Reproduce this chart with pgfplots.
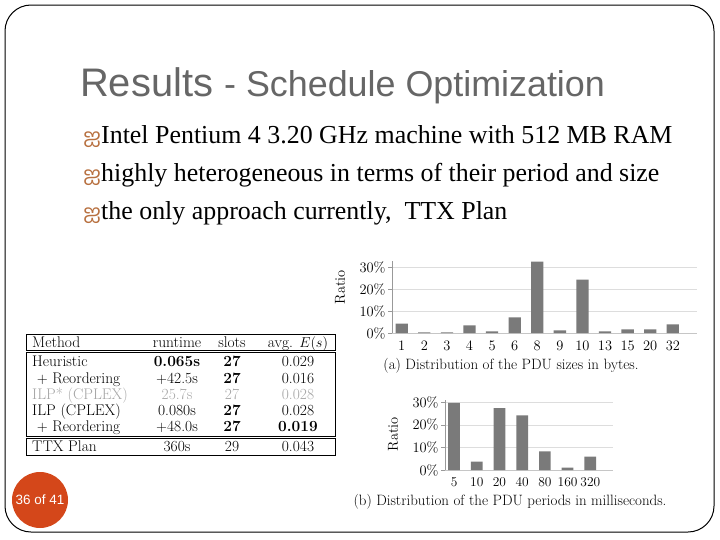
\documentclass[border=0pt]{standalone}
\usepackage{pgfplots}
\pgfplotsset{compat=1.18}
\usepackage{fontspec}
\newfontfamily\arialfont{Liberation Sans}
\newfontfamily\timesfont{Liberation Serif}
\newfontfamily\tamilfont[Script=Tamil]{Hind Madurai}
\definecolor{titlegray}{HTML}{666666}
\definecolor{bulletcol}{HTML}{B8703F}
\definecolor{pagered}{HTML}{D4471A}
\definecolor{bargray}{HTML}{7A7A7A}
\definecolor{gridgray}{HTML}{DDDDDD}

\pgfplotsset{
  ratiochart/.style={
    scale only axis, anchor=south west,
    ybar, bar shift=0pt,
    ymin=0,
    axis x line*=bottom, axis y line*=left,
    x axis line style={draw=gray!45},
    y axis line style={draw=gray!80},
    ytick={0,10,20,30}, yticklabels={0\%,10\%,20\%,30\%},
    ymajorgrids, grid style={gridgray},
    ytick style={draw=gray!80}, major tick length=4bp, tick align=outside,
    xtick=data, xtick style={draw=none},
    ticklabel style={font=\fontsize{14.5}{15}\selectfont},
    yticklabel style={xshift=1bp},
  }
}

\begin{document}
\begin{tikzpicture}
\path[use as bounding box, fill=white] (0,0) rectangle (720bp,-540bp);
\draw[rounded corners=26bp, line width=1bp] (5bp,-5bp) rectangle (714bp,-532bp);

% title and bullets
\node[anchor=base west, text=titlegray, inner sep=0pt] at (80bp,-96bp)
  {\arialfont\fontsize{40}{40}\selectfont Results \fontsize{36}{36}\selectfont - Schedule Optimization};
\foreach \yy/\txt in {143/{Intel Pentium 4 3.20 GHz machine with 512 MB RAM},
                      181/{highly heterogeneous in terms of their period and size},
                      219/{the only approach currently,\ \ TTX Plan}}{
  \node[anchor=base west, inner sep=0pt, text=bulletcol] at (83bp,-\yy bp) {\tamilfont\fontsize{21}{21}\selectfont ஐ};
  \node[anchor=base west, inner sep=0pt] at (101bp,-\yy bp) {\timesfont\fontsize{26}{26}\selectfont \txt};
}

% (a) PDU sizes
\begin{axis}[ratiochart,
  at={(392bp,-333bp)}, width=305bp, height=72bp,
  xmin=-0.43, xmax=13.07, ymax=33, bar width=12.3bp,
  xticklabels={1,2,3,4,5,6,8,9,10,13,15,20,32},
]
\addplot[fill=bargray, draw=none] coordinates {
  (0,4.3) (1,0.3) (2,0.3) (3,3.5) (4,0.8) (5,7.2) (6,32.7)
  (7,1.2) (8,24.5) (9,0.8) (10,1.7) (11,1.7) (12,4.0)};
\end{axis}
\node[rotate=90, font=\fontsize{14.5}{15}\selectfont] at (340bp,-287bp) {Ratio};
\node[font=\fontsize{15}{16}\selectfont] at (511bp,-366bp) {(a) Distribution of the PDU sizes in bytes.};

% (b) PDU periods
\begin{axis}[ratiochart,
  at={(445bp,-470bp)}, width=168bp, height=70bp,
  xmin=-0.4, xmax=7.0, ymax=31, bar width=11.7bp,
  xticklabels={5,10,20,40,80,160,320},
  xticklabel style={font=\fontsize{13.5}{14}\selectfont},
]
\addplot[fill=bargray, draw=none] coordinates {
  (0,29.7) (1,3.7) (2,27.4) (3,24.2) (4,8.3) (5,1.0) (6,5.9)};
\end{axis}
\node[rotate=90, font=\fontsize{14.5}{15}\selectfont] at (393bp,-434bp) {Ratio};
\node[font=\fontsize{15}{16}\selectfont] at (510bp,-502bp) {(b) Distribution of the PDU periods in milliseconds.};

% results table
\draw[line width=0.8bp] (26bp,-334bp) rectangle (335bp,-350bp);
\draw[line width=0.8bp] (26bp,-352bp) rectangle (335bp,-436bp);
\draw[line width=0.8bp] (26bp,-438bp) rectangle (335bp,-455bp);
\begin{scope}[every node/.style={inner sep=0pt, font=\fontsize{15.5}{16}\selectfont}]
\node[anchor=base west] at (32bp,-347bp) {Method};
\node[anchor=base] at (177bp,-347bp) {runtime};
\node[anchor=base] at (232bp,-347bp) {slots};
\node[anchor=base] at (298bp,-347bp) {avg. $E(s)$};
\node[anchor=base west] at (32bp,-366bp) {Heuristic};
\node[anchor=base] at (177bp,-366bp) {\textbf{0.065s}};
\node[anchor=base] at (232bp,-366bp) {\textbf{27}};
\node[anchor=base] at (298bp,-366bp) {0.029};
\node[anchor=base west] at (32bp,-383bp) {\ $+$ Reordering};
\node[anchor=base] at (177bp,-383bp) {$+$42.5s};
\node[anchor=base] at (232bp,-383bp) {\textbf{27}};
\node[anchor=base] at (298bp,-383bp) {0.016};
\begin{scope}[every node/.append style={text=gray!70}]
\node[anchor=base west] at (32bp,-399bp) {ILP* (CPLEX)};
\node[anchor=base] at (177bp,-399bp) {25.7s};
\node[anchor=base] at (232bp,-399bp) {27};
\node[anchor=base] at (298bp,-399bp) {0.028};
\end{scope}
\node[anchor=base west] at (32bp,-415bp) {ILP (CPLEX)};
\node[anchor=base] at (177bp,-415bp) {0.080s};
\node[anchor=base] at (232bp,-415bp) {\textbf{27}};
\node[anchor=base] at (298bp,-415bp) {0.028};
\node[anchor=base west] at (32bp,-431bp) {\ $+$ Reordering};
\node[anchor=base] at (177bp,-431bp) {$+$48.0s};
\node[anchor=base] at (232bp,-431bp) {\textbf{27}};
\node[anchor=base] at (298bp,-431bp) {\textbf{0.019}};
\node[anchor=base west] at (32bp,-451bp) {TTX Plan};
\node[anchor=base] at (177bp,-451bp) {360s};
\node[anchor=base] at (232bp,-451bp) {29};
\node[anchor=base] at (298bp,-451bp) {0.043};
\end{scope}

% page number
\fill[pagered] (40bp,-500bp) circle (28bp);
\node[text=white, font=\arialfont\fontsize{13.5}{13}\selectfont] at (40bp,-500bp) {36 of 41};
\end{tikzpicture}
\end{document}
